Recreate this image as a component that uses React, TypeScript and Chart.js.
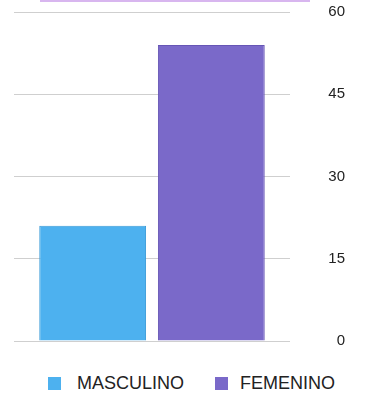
import React, { useEffect, useRef } from "react";
import { Chart, registerables } from "chart.js";

Chart.register(...registerables);

const categories = [""];
const seriesNames = ["MASCULINO", "FEMENINO"];
const seriesColors = ["#4db1ef", "#7a69c9"];
const seriesBorders = ["#3a9ad8", "#6655b5"];
const masculinoValues = [21];
const femeninoValues = [54];
const yTicks = [0, 15, 30, 45, 60];

const FONT = "Liberation Sans, Arial, sans-serif";

export default function App() {
  const ref = useRef<HTMLCanvasElement | null>(null);
  useEffect(() => {
    if (!ref.current) return;
    const chart = new Chart(ref.current, {
      type: "bar",
      data: {
        labels: categories,
        datasets: [
          {
            label: seriesNames[0],
            data: masculinoValues,
            backgroundColor: seriesColors[0],
            borderColor: seriesBorders[0],
            borderWidth: 1,
          },
          {
            label: seriesNames[1],
            data: femeninoValues,
            backgroundColor: seriesColors[1],
            borderColor: seriesBorders[1],
            borderWidth: 1,
          },
        ],
      },
      options: {
        responsive: false,
        animation: false,
        layout: { padding: { left: 14, right: 26, top: 0, bottom: 0 } },
        datasets: {
          bar: { categoryPercentage: 0.86, barPercentage: 0.9 },
        },
        scales: {
          x: { display: false },
          y: {
            position: "right",
            min: 0,
            max: 60,
            afterBuildTicks: (axis: any) => {
              axis.ticks = yTicks.map((v) => ({ value: v }));
            },
            afterFit: (axis: any) => {
              axis.width = 55;
            },
            border: { display: false },
            grid: { color: "#cfcfcf", lineWidth: 1, drawTicks: false },
            ticks: {
              padding: 3,
              crossAlign: "far",
              color: "#222",
              font: { family: FONT, size: 15 },
            },
          },
        },
        plugins: {
          tooltip: { enabled: false },
          legend: { display: false },
        },
      },
    });
    return () => chart.destroy();
  }, []);
  return (
    <div style={{ position: "fixed", left: 0, top: 0, width: 371, height: 397, background: "#fff" }}>
      <div style={{ position: "absolute", left: 40, top: 0, width: 270, height: 2, background: "#d8b6ef" }} />
      <canvas ref={ref} width={371} height={353} style={{ display: "block" }} />
      <div
        style={{
          position: "absolute",
          left: 48,
          top: 373,
          display: "flex",
          alignItems: "center",
          fontFamily: FONT,
          fontSize: 18,
          color: "#222",
          lineHeight: "20px",
          whiteSpace: "nowrap",
        }}
      >
        {seriesNames.map((name, i) => (
          <div key={name} style={{ display: "flex", alignItems: "center", marginRight: i === 0 ? 31 : 0 }}>
            <span
              style={{
                display: "inline-block",
                width: 13,
                height: 13,
                background: seriesColors[i],
                marginRight: i === 0 ? 16 : 12,
              }}
            />
            <span>{name}</span>
          </div>
        ))}
      </div>
    </div>
  );
}
